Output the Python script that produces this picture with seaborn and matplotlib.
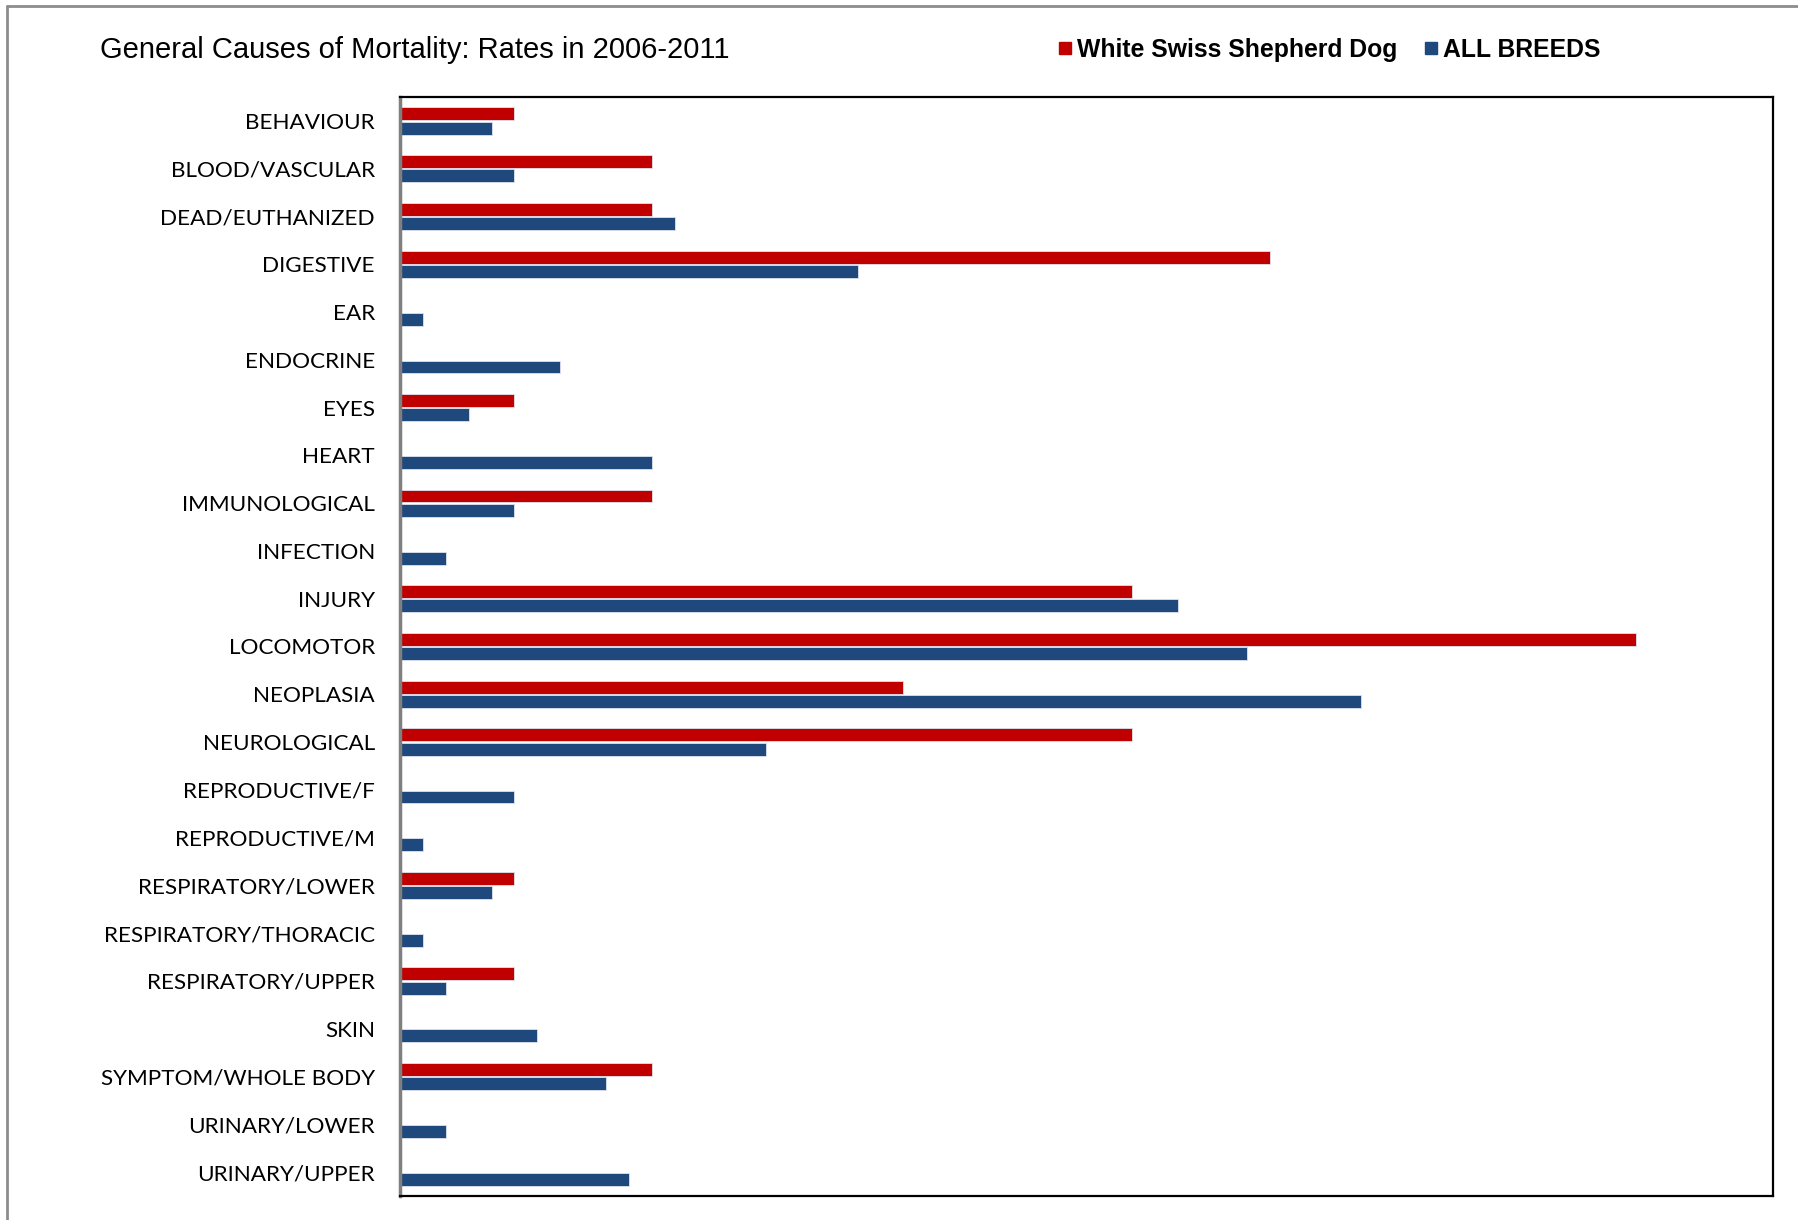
import matplotlib
matplotlib.use("Agg")
import matplotlib.pyplot as plt
import pandas as pd
import seaborn as sns
from matplotlib.lines import Line2D

causes = [
    "BEHAVIOUR", "BLOOD/VASCULAR", "DEAD/EUTHANIZED", "DIGESTIVE", "EAR", "ENDOCRINE",
    "EYES", "HEART", "IMMUNOLOGICAL", "INFECTION", "INJURY", "LOCOMOTOR", "NEOPLASIA",
    "NEUROLOGICAL", "REPRODUCTIVE/F", "REPRODUCTIVE/M", "RESPIRATORY/LOWER",
    "RESPIRATORY/THORACIC", "RESPIRATORY/UPPER", "SKIN", "SYMPTOM/WHOLE BODY",
    "URINARY/LOWER", "URINARY/UPPER",
]
wssd = [5, 11, 11, 38, 0, 0, 5, 0, 11, 0, 32, 54, 22, 32, 0, 0, 5, 0, 5, 0, 11, 0, 0]
all_breeds = [4, 5, 12, 20, 1, 7, 3, 11, 5, 2, 34, 37, 42, 16, 5, 1, 4, 1, 2, 6, 9, 2, 10]
series = ["White Swiss Shepherd Dog", "ALL BREEDS"]
colors = ["#C00000", "#1F497D"]

df = pd.concat([
    pd.DataFrame({"cause": causes, "rate": wssd, "group": series[0]}),
    pd.DataFrame({"cause": causes, "rate": all_breeds, "group": series[1]}),
])

sns.set_style("white")
plt.rcParams["text.color"] = "black"
fig = plt.figure(figsize=(17.98, 12.2), dpi=100)
ax = fig.add_axes([400 / 1798, 24 / 1220, 1373 / 1798, 1099 / 1220])

sns.barplot(
    data=df, x="rate", y="cause", hue="group", order=causes, hue_order=series,
    palette=colors, saturation=1, width=0.6, gap=0.1, orient="h", legend=False,
    edgecolor="#dde3ee", linewidth=0.6, ax=ax,
)
ax.set_xlim(0, 60)
ax.set_xlabel("")
ax.set_ylabel("")
ax.set_xticks([])
ax.tick_params(axis="y", length=0, pad=18)
for lab in ax.get_yticklabels():
    lab.set_fontfamily("Lato")
    lab.set_fontsize(16.2)
    lab.set_color("black")
for side in ["top", "right", "bottom"]:
    ax.spines[side].set_color("black")
    ax.spines[side].set_linewidth(1.6)
    ax.spines[side].set_visible(True)
ax.spines["left"].set_color("#7f7f7f")
ax.spines["left"].set_linewidth(2.5)
ax.spines["left"].set_visible(True)

fig.text(100 / 1798, 1 - 50 / 1220, "General Causes of Mortality: Rates in 2006-2011",
         family="Liberation Sans", fontsize=21, va="center", ha="left", color="black")

handles = [Line2D([], [], marker="s", linestyle="", color=c, markersize=9) for c in colors]
fig.legend(handles, series, loc="center left", bbox_to_anchor=(1030 / 1798, 1 - 50 / 1220),
           ncol=2, frameon=False, handletextpad=0.0, columnspacing=0.85, handlelength=1.0,
           prop={"family": "Liberation Sans", "weight": "bold", "size": 17.8})

# outer chart-area border (top and left visible)
fig.add_artist(Line2D([7 / 1798, 1], [1 - 6 / 1220, 1 - 6 / 1220], color="#8c8c8c", lw=2,
                      transform=fig.transFigure))
fig.add_artist(Line2D([7 / 1798, 7 / 1798], [0, 1 - 6 / 1220], color="#8c8c8c", lw=2,
                      transform=fig.transFigure))

fig.savefig("out.png", dpi=100)
